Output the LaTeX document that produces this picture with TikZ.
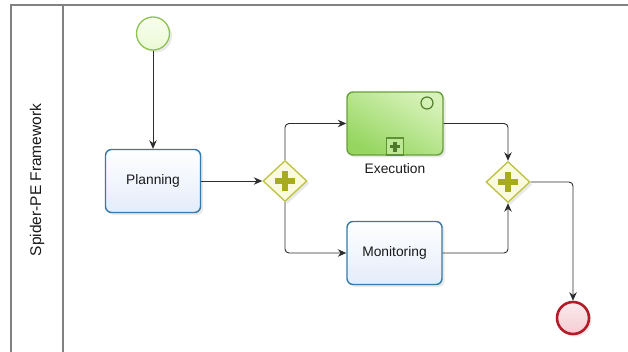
\documentclass[tikz,border=0pt]{standalone}
\usepackage{fontspec}
\setmainfont{Liberation Sans}
\usetikzlibrary{shapes.geometric,arrows.meta,shadows}
\definecolor{taskblue}{RGB}{52,122,170}
\definecolor{taskfill}{RGB}{228,236,250}
\definecolor{execline}{RGB}{104,160,58}
\definecolor{exectop}{RGB}{214,242,184}
\definecolor{execbot}{RGB}{150,214,96}
\definecolor{gwline}{RGB}{190,196,70}
\definecolor{gwfill}{RGB}{250,250,222}
\definecolor{plusc}{RGB}{166,172,30}
\definecolor{startline}{RGB}{140,194,80}
\definecolor{startfill}{RGB}{236,250,214}
\definecolor{endline}{RGB}{178,28,40}
\definecolor{endfill}{RGB}{244,204,210}
\definecolor{flowc}{RGB}{45,45,45}
\definecolor{framec}{RGB}{130,130,130}
\definecolor{textc}{RGB}{25,25,25}
\begin{document}
\begin{tikzpicture}[x=1pt,y=-1pt,
  softshadow/.style={drop shadow={shadow xshift=2.5pt,shadow yshift=-2.5pt,fill=black!25,opacity=0.35}},
  task/.style={draw=taskblue,line width=1.4pt,rounded corners=6pt,top color=white,bottom color=taskfill,
    minimum width=95pt,minimum height=63pt,inner sep=0pt,text=textc,font=\fontsize{13.8}{16}\selectfont,softshadow},
  subtask/.style={draw=execline,line width=1.4pt,rounded corners=6pt,left color=exectop,right color=execbot,shading angle=-30,
    minimum width=96pt,minimum height=63pt,inner sep=0pt,softshadow},
  gateway/.style={diamond,aspect=1,draw=gwline,line width=1.4pt,fill=gwfill,minimum width=44pt,minimum height=41pt,inner sep=0pt,softshadow,
    path picture={
      \fill[plusc] ([xshift=-10pt,yshift=-2.8pt]path picture bounding box.center) rectangle ([xshift=10pt,yshift=2.8pt]path picture bounding box.center);
      \fill[plusc] ([xshift=-2.8pt,yshift=-10pt]path picture bounding box.center) rectangle ([xshift=2.8pt,yshift=10pt]path picture bounding box.center);}},
  startev/.style={circle,draw=startline,line width=1.3pt,top color=startfill!40,bottom color=startfill,minimum size=33pt,inner sep=0pt,softshadow},
  endev/.style={circle,draw=endline,line width=2.6pt,top color=endfill!40,bottom color=endfill,minimum size=32pt,inner sep=0pt,softshadow},
  flow/.style={draw=flowc,line width=0.9pt,rounded corners=4pt,-{Stealth[length=8.5pt,width=7.5pt]}},
  lbl/.style={text=textc,font=\fontsize{13.8}{16}\selectfont},
  framel/.style={draw=framec,line width=1.5pt}
]
\useasboundingbox (0,0) rectangle (628,352);
% pool frame
\coordinate (ftl) at (11,5);
\coordinate (ftr) at (628,5);
\coordinate (fbl) at (11,352);
\coordinate (dtop) at (63,5);
\coordinate (dbot) at (63,352);
\draw[framel] (fbl) -- (ftl) -- (ftr);
\draw[framel] (dtop) -- (dbot);
\node[rotate=90,text=textc,font=\fontsize{15.5}{18}\selectfont] (lane) at (37,180) {Spider-PE Framework};

% nodes
\node[startev] (start) at (153,33.5) {};
\node[task] (plan) at (153,181) {Planning};
\node[gateway] (g1) at (285,181) {};
\node[subtask] (exec) at (395,123.5) {};
\node[lbl] (execlbl) at ([yshift=-12.5pt]exec.south) {Execution};
\node[draw=execline!90!black,line width=1.2pt,fill=exectop!60!execbot,minimum size=17pt,inner sep=0pt,anchor=south] (sub) at (exec.south) {};
\fill[execline!75!black] ([xshift=-5pt,yshift=-1.7pt]sub.center) rectangle ([xshift=5pt,yshift=1.7pt]sub.center);
\fill[execline!75!black] ([xshift=-1.7pt,yshift=-5pt]sub.center) rectangle ([xshift=1.7pt,yshift=5pt]sub.center);
\node[circle,draw=execline!80!black,line width=1.2pt,minimum size=12pt,inner sep=0pt] (timer) at (427,103) {};
\node[task] (mon) at (394.5,253) {Monitoring};
\node[gateway] (g2) at (508,182) {};
\node[endev] (end) at (573,318) {};

% flows
\draw[flow] (start) -- (plan);
\draw[flow] (plan) -- (g1);
\draw[flow] (g1.north) |- (exec.west);
\draw[flow] (g1.south) |- (mon.west);
\draw[flow] (exec.east) -| (g2.north);
\draw[flow] (mon.east) -| (g2.south);
\draw[flow] (g2.east) -| (end.north);
\end{tikzpicture}
\end{document}
